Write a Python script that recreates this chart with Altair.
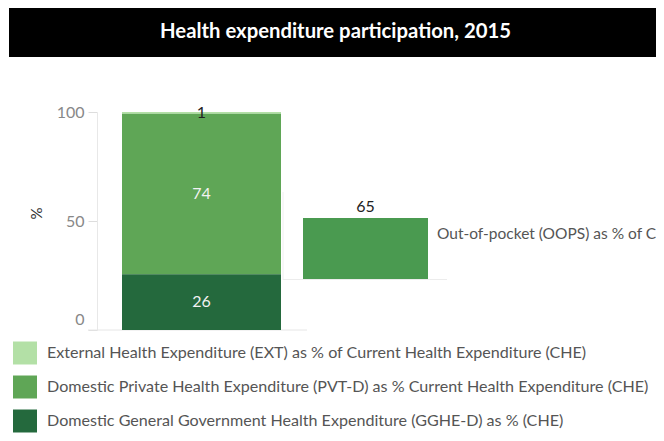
import altair as alt
import pandas as pd

# ---------------- data ----------------
title_text = "Health expenditure participation, 2015"
year_group = ["2015"]
categories = [
    "External Health Expenditure (EXT) as % of Current Health Expenditure (CHE)",
    "Domestic Private Health Expenditure (PVT-D) as % Current Health Expenditure (CHE)",
    "Domestic General Government Health Expenditure (GGHE-D) as % (CHE)",
]
shares = [0.8, 73.6, 25.6]
oops_labels = ["Out-of-pocket (OOPS) as % of CHE"]
oops_values = [65]
y_ticks = [0, 50, 100]

# ---------------- styles ----------------
seg_colors = ["#b3e0a6", "#5fa656", "#24693d"]
oops_color = "#4a9a50"
FONT = "Lato"

stack_df = pd.DataFrame({
    "category": categories,
    "share": shares,
    "idx": list(range(len(categories))),
    "group": year_group * len(categories),
})
oops_df = pd.DataFrame({"metric": oops_labels, "value": oops_values})
one = pd.DataFrame({"k": [0]})

# ---------------- decorations ----------------
title_bar = alt.Chart(one).mark_rect(color="black").encode(
    x=alt.value(1), x2=alt.value(648), y=alt.value(0), y2=alt.value(49)
)
title = alt.Chart(one).mark_text(
    text=title_text, font=FONT, fontSize=20.3, fontWeight="bold", color="white",
    align="center", baseline="alphabetic"
).encode(x=alt.value(327.5), y=alt.value(30))

left_base = alt.Chart(one).mark_rule(color="#e6e6e6", strokeWidth=1).encode(
    x=alt.value(80), x2=alt.value(299), y=alt.value(322)
)
right_v = alt.Chart(one).mark_rule(color="#f0f0f0", strokeWidth=1).encode(
    x=alt.value(275), y=alt.value(184), y2=alt.value(272)
)
right_h = alt.Chart(one).mark_rule(color="#ececec", strokeWidth=1).encode(
    x=alt.value(275), x2=alt.value(439), y=alt.value(271.5)
)

# ---------------- left stacked bar ----------------
x_left = alt.X("group:N", scale=alt.Scale(range=[114, 273], paddingInner=0, paddingOuter=0), axis=None)
y_scale = alt.Scale(domain=[0, 100], range=[322, 104], nice=False)

stacked = alt.Chart(stack_df).transform_stack(
    stack="share", groupby=["group"], as_=["y0", "y1"],
    sort=[alt.SortField("idx", order="descending")]
).transform_calculate(mid="(datum.y0 + datum.y1) / 2")

bars = stacked.mark_bar().encode(
    x=x_left,
    y=alt.Y("y0:Q", scale=y_scale, axis=alt.Axis(
        values=y_ticks, orient="left", offset=-89, grid=False,
        domainColor="#e8e8e8", tickColor="#dddddd", tickSize=9,
        labelFont=FONT, labelFontSize=16, labelColor="#888888", labelPadding=4,
        labelOffset={"condition": {"test": "datum.value === 0", "value": -11}, "value": 0},
        title="%", titleFont=FONT, titleFontSize=15, titleFontWeight="normal",
        titleColor="#333333", titleX=-61, titleY=205, titleAngle=270,
        titleAlign="center", titleBaseline="middle")),
    y2="y1:Q",
    color=alt.Color("category:N", scale=alt.Scale(domain=categories, range=seg_colors),
                    legend=alt.Legend(
                        orient="none", legendX=5, legendY=333, title=None, padding=0,
                        symbolType="M-1,-0.958H1V0.958H-1Z", symbolSize=576,
                        symbolStrokeWidth=0, symbolOpacity=1,
                        labelFont=FONT, labelFontSize=16.1, labelColor="#555555",
                        labelLimit=0, labelOffset=10, rowPadding=10)),
)
bar_text = stacked.mark_text(font=FONT, fontSize=16, baseline="middle").encode(
    x=x_left,
    y=alt.Y("mid:Q", scale=y_scale),
    text=alt.Text("share:Q", format=".0f"),
    color=alt.condition("datum.share < 5", alt.value("#222222"), alt.value("#f2f2f2")),
)
left = alt.layer(bars, bar_text)

# ---------------- right OOPS bar ----------------
x_right = alt.X("metric:N", scale=alt.Scale(range=[295, 420], paddingInner=0, paddingOuter=0), axis=None)
y_right = alt.Y("value:Q", scale=alt.Scale(domain=[0, 100], range=[271, 177], nice=False), axis=None)
oops_base = alt.Chart(oops_df)
oops_bar = oops_base.mark_bar(color=oops_color).encode(x=x_right, y=y_right)
oops_num = oops_base.mark_text(font=FONT, fontSize=16, color="#222222", baseline="middle", dy=-11).encode(
    x=x_right, y=y_right, text=alt.Text("value:Q", format=".0f")
)
oops_lab = oops_base.mark_text(font=FONT, fontSize=15.5, color="#555555", align="left",
                               baseline="middle", dy=16).encode(
    x=alt.value(429), y=y_right, text="metric:N"
)
right = alt.layer(oops_bar, oops_num, oops_lab)

chart = alt.layer(
    title_bar, title, left_base, right_v, right_h, left, right
).resolve_scale(x="independent", y="independent", color="independent").properties(
    width=648, height=425, autosize=alt.AutoSizeParams(type="none"), padding=0,
    background="white"
).configure_view(stroke=None)

chart.save("out.html", embed_options={"renderer": "svg", "actions": False})
